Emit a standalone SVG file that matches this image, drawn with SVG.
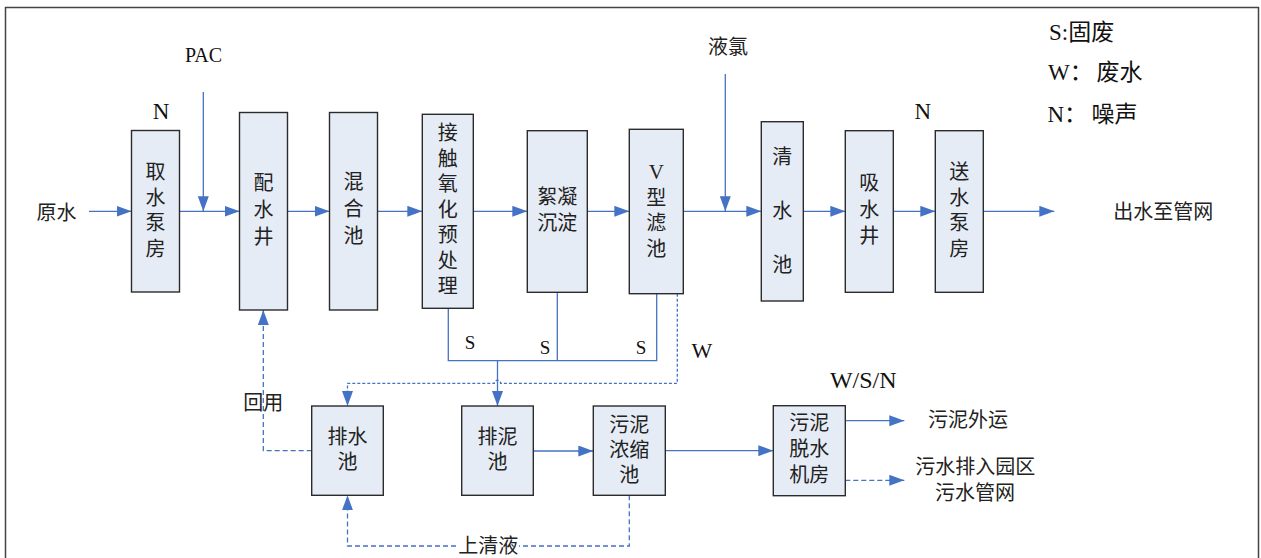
<svg xmlns="http://www.w3.org/2000/svg" width="1261" height="558" viewBox="0 0 1261 558">
<style>
.box{fill:#e6ecf6;stroke:#2b2b2b;stroke-width:1.4}
.cj{font-family:"Liberation Sans","Noto Sans CJK SC",sans-serif;font-size:20px;fill:#222;text-anchor:middle;dominant-baseline:central}
.lt{font-family:"Liberation Serif","Noto Sans CJK SC",serif;fill:#111}
.ln{fill:none;stroke:#4472c4;stroke-width:1.3}
.ar{marker-end:url(#ah)}
.ds{stroke-dasharray:5 3}
.df{stroke-dasharray:3 2}
</style>
<defs>
<marker id="ah" markerUnits="userSpaceOnUse" markerWidth="16" markerHeight="12" refX="15" refY="5.5" orient="auto">
<path d="M0,0 L15,5.5 L0,11 z" fill="#4472c4"/>
</marker>
</defs>
<rect x="0" y="0" width="1261" height="558" fill="#ffffff"/>
<rect x="5.5" y="7.5" width="1253" height="560" fill="none" stroke="#444" stroke-width="1.5"/>

<g id="connectors">
<path class="ln ar" d="M89,211.3 H131.5"/>
<path class="ln ar" d="M203.3,92 V211.3"/>
<path class="ln ar" d="M179.5,211.3 H239.5"/>
<path class="ln ar" d="M287.5,211.3 H329.5"/>
<path class="ln ar" d="M377.5,211.3 H422.3"/>
<path class="ln ar" d="M473.3,211.3 H527.3"/>
<path class="ln ar" d="M587.3,211.3 H629.3"/>
<path class="ln ar" d="M683.3,211.3 H761.3"/>
<path class="ln ar" d="M725.3,74 V211.3"/>
<path class="ln ar" d="M803.3,211.3 H845.3"/>
<path class="ln ar" d="M893.3,211.3 H935.3"/>
<path class="ln ar" d="M983.3,211.3 H1054.3"/>
<path class="ln" d="M448.3,308.3 V360.7 H656.7 V293.7"/>
<path class="ln" d="M557.3,292.3 V360.7"/>
<path class="ln ar" d="M497.5,360.7 V406"/>
<path class="ln ds ar" d="M311.7,450.7 H263.3 V310"/>
<path class="ln df ar" d="M677.3,293.7 V383.3 H500.7 A3.2,3.2 0 0 0 494.3,383.3 H347.5 V406"/>
<path class="ln ds ar" d="M629.3,495.3 V546 H347.5 V495.3"/>
<path class="ln ar" d="M533.3,451 H593.3"/>
<path class="ln ar" d="M665.3,450.7 H773.3"/>
<path class="ln ar" d="M845.3,420.7 H904.3"/>
<path class="ln ds ar" d="M845.3,480.3 H904.3"/>
</g>

<g id="n-qushui"><rect class="box" x="131.5" y="130.5" width="48" height="161.5"/>
<text class="cj"><tspan x="155.5" y="172">取</tspan><tspan x="155.5" y="197.5">水</tspan><tspan x="155.5" y="223">泵</tspan><tspan x="155.5" y="248.5">房</tspan></text></g>
<g id="n-peishui"><rect class="box" x="239.5" y="112.5" width="48" height="197.5"/>
<text class="cj"><tspan x="263.5" y="183">配</tspan><tspan x="263.5" y="210">水</tspan><tspan x="263.5" y="237">井</tspan></text></g>
<g id="n-hunhe"><rect class="box" x="329.5" y="112.5" width="48" height="197.5"/>
<text class="cj"><tspan x="353.5" y="182">混</tspan><tspan x="353.5" y="209">合</tspan><tspan x="353.5" y="236">池</tspan></text></g>
<g id="n-jiechu"><rect class="box" x="422.3" y="114.3" width="51" height="194"/>
<text class="cj"><tspan x="447.8" y="133">接</tspan><tspan x="447.8" y="158.5">触</tspan><tspan x="447.8" y="184">氧</tspan><tspan x="447.8" y="209.5">化</tspan><tspan x="447.8" y="235">预</tspan><tspan x="447.8" y="260.5">处</tspan><tspan x="447.8" y="286">理</tspan></text></g>
<g id="n-xuning"><rect class="box" x="527.3" y="130.7" width="60" height="161.6"/>
<text class="cj"><tspan x="557.3" y="197">絮凝</tspan><tspan x="557.3" y="223">沉淀</tspan></text></g>
<g id="n-vlv"><rect class="box" x="629.3" y="129.3" width="54" height="164.4"/>
<text class="cj"><tspan x="656.3" y="172" style="font-family:'Liberation Serif',serif;font-size:21px">V</tspan><tspan x="656.3" y="197.5">型</tspan><tspan x="656.3" y="222.5">滤</tspan><tspan x="656.3" y="248.5">池</tspan></text></g>
<g id="n-qingshui"><rect class="box" x="761.3" y="121.7" width="42" height="179.3"/>
<text class="cj"><tspan x="782.3" y="157">清</tspan><tspan x="782.3" y="211">水</tspan><tspan x="782.3" y="265">池</tspan></text></g>
<g id="n-xishui"><rect class="box" x="845.3" y="130.7" width="48" height="161.6"/>
<text class="cj"><tspan x="869.3" y="183">吸</tspan><tspan x="869.3" y="210">水</tspan><tspan x="869.3" y="236">井</tspan></text></g>
<g id="n-songshui"><rect class="box" x="935.3" y="130.7" width="48" height="161.6"/>
<text class="cj"><tspan x="959.3" y="172">送</tspan><tspan x="959.3" y="197.5">水</tspan><tspan x="959.3" y="223">泵</tspan><tspan x="959.3" y="248.5">房</tspan></text></g>
<g id="n-paishui"><rect class="box" x="311.7" y="406" width="71.6" height="89.3"/>
<text class="cj"><tspan x="347.5" y="436.7">排水</tspan><tspan x="347.5" y="461.7">池</tspan></text></g>
<g id="n-paini"><rect class="box" x="461.7" y="406" width="71.6" height="89.3"/>
<text class="cj"><tspan x="497.5" y="436.7">排泥</tspan><tspan x="497.5" y="461.7">池</tspan></text></g>
<g id="n-nongsuo"><rect class="box" x="593.3" y="406" width="72" height="89.3"/>
<text class="cj"><tspan x="629.3" y="425">污泥</tspan><tspan x="629.3" y="449.5">浓缩</tspan><tspan x="629.3" y="475">池</tspan></text></g>
<g id="n-tuoshui"><rect class="box" x="773.3" y="405.7" width="72" height="90"/>
<text class="cj"><tspan x="809.3" y="423.3">污泥</tspan><tspan x="809.3" y="448.5">脱水</tspan><tspan x="809.3" y="475">机房</tspan></text></g>

<g id="labels">
<text class="cj" x="56.5" y="213">原水</text>
<text class="lt" x="203.5" y="61.7" font-size="20" text-anchor="middle">PAC</text>
<text class="lt" x="161" y="118.7" font-size="23" text-anchor="middle">N</text>
<text class="lt" x="922.7" y="118.7" font-size="23" text-anchor="middle">N</text>
<text class="cj" x="728" y="46.7">液氯</text>
<text class="cj" x="1163.3" y="212">出水至管网</text>
<text class="lt" x="1049" y="40" font-size="23">S:固废</text>
<text class="lt" x="1048" y="80" font-size="23">W：<tspan x="1096.5">废水</tspan></text>
<text class="lt" x="1047.5" y="121.5" font-size="23">N：<tspan x="1091.5">噪声</tspan></text>
<text class="lt" x="470" y="349" font-size="19" text-anchor="middle">S</text>
<text class="lt" x="545" y="354" font-size="19" text-anchor="middle">S</text>
<text class="lt" x="641" y="354" font-size="19" text-anchor="middle">S</text>
<text class="lt" x="702" y="358" font-size="22" text-anchor="middle">W</text>
<text class="cj" x="263.3" y="403.3">回用</text>
<rect x="457" y="536" width="62" height="20" fill="#ffffff"/>
<text class="cj" x="488.3" y="546">上清液</text>
<text class="lt" x="863.3" y="388.3" font-size="24" text-anchor="middle">W/S/N</text>
<text class="cj" x="968" y="420">污泥外运</text>
<text class="cj"><tspan x="975.3" y="467.3">污水排入园区</tspan><tspan x="975" y="493.3">污水管网</tspan></text>
</g>
</svg>
